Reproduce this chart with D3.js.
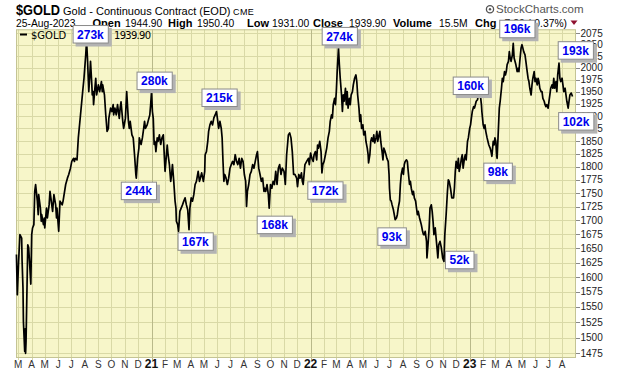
<!DOCTYPE html>
<html>
<head>
<meta charset="utf-8">
<title>$GOLD - Continuous Contract</title>
<script src="https://d3js.org/d3.v7.min.js"></script>
<style>
  body { margin: 0; background: #fff; }
  svg { display: block; font-family: Arial, "Liberation Sans", sans-serif; }
</style>
</head>
<body>
<div id="chart"></div>
<script>
// daily closes (roughly every 2-3 sessions)
const dates = [
  "2020-02-26","2020-02-28","2020-03-02","2020-03-05","2020-03-09","2020-03-10","2020-03-12","2020-03-13","2020-03-16","2020-03-17",
  "2020-03-18","2020-03-19","2020-03-23","2020-03-25","2020-03-27","2020-03-30","2020-04-01","2020-04-03","2020-04-06","2020-04-08",
  "2020-04-10","2020-04-14","2020-04-16","2020-04-17","2020-04-21","2020-04-23","2020-04-24","2020-04-28","2020-04-30","2020-05-01",
  "2020-05-05","2020-05-07","2020-05-11","2020-05-13","2020-05-15","2020-05-19","2020-05-22","2020-05-26","2020-05-28","2020-05-29",
  "2020-06-02","2020-06-05","2020-06-10","2020-06-12","2020-06-18","2020-06-22","2020-06-25","2020-06-29","2020-07-02","2020-07-06",
  "2020-07-08","2020-07-10","2020-07-14","2020-07-17","2020-07-22","2020-07-27","2020-07-30","2020-08-03","2020-08-05","2020-08-07",
  "2020-08-10","2020-08-12","2020-08-14","2020-08-17","2020-08-18","2020-08-20","2020-08-21","2020-08-24","2020-08-26","2020-08-28",
  "2020-09-01","2020-09-04","2020-09-08","2020-09-10","2020-09-11","2020-09-15","2020-09-18","2020-09-21","2020-09-24","2020-09-25",
  "2020-09-29","2020-10-02","2020-10-05","2020-10-06","2020-10-09","2020-10-12","2020-10-15","2020-10-19","2020-10-21","2020-10-23",
  "2020-10-27","2020-10-29","2020-11-02","2020-11-05","2020-11-09","2020-11-11","2020-11-13","2020-11-17","2020-11-20","2020-11-23",
  "2020-11-26","2020-11-27","2020-11-30","2020-12-03","2020-12-04","2020-12-08","2020-12-11","2020-12-14","2020-12-16","2020-12-18",
  "2020-12-22","2020-12-24","2020-12-28","2020-12-30","2021-01-01","2021-01-03","2021-01-05","2021-01-07","2021-01-09","2021-01-11",
  "2021-01-14","2021-01-16","2021-01-19","2021-01-22","2021-01-25","2021-01-28",
  "2021-02-01","2021-02-03","2021-02-06","2021-02-08","2021-02-11","2021-02-14","2021-02-16","2021-02-18","2021-02-21","2021-02-24",
  "2021-02-26","2021-02-27","2021-03-02","2021-03-04","2021-03-07","2021-03-10","2021-03-13","2021-03-16","2021-03-19","2021-03-22",
  "2021-03-25","2021-03-28","2021-03-30","2021-04-02","2021-04-05","2021-04-08","2021-04-11","2021-04-14","2021-04-18","2021-04-21",
  "2021-04-23","2021-04-26","2021-04-30","2021-05-03","2021-05-04","2021-05-07","2021-05-10","2021-05-12","2021-05-15","2021-05-18",
  "2021-05-21","2021-05-24","2021-05-27","2021-05-30","2021-06-01","2021-06-04","2021-06-07","2021-06-10","2021-06-12","2021-06-14",
  "2021-06-16","2021-06-18","2021-06-21","2021-06-24","2021-06-27","2021-06-30","2021-07-03","2021-07-06","2021-07-09","2021-07-12",
  "2021-07-15","2021-07-18","2021-07-21","2021-07-24","2021-07-27","2021-07-30","2021-08-02","2021-08-05","2021-08-07","2021-08-09",
  "2021-08-12","2021-08-15","2021-08-18","2021-08-21","2021-08-24","2021-08-27","2021-08-30","2021-09-01","2021-09-04","2021-09-07",
  "2021-09-10","2021-09-13","2021-09-16","2021-09-18","2021-09-20","2021-09-23","2021-09-26","2021-09-28","2021-10-01","2021-10-04",
  "2021-10-07","2021-10-10","2021-10-13","2021-10-16","2021-10-19","2021-10-22","2021-10-25","2021-10-28","2021-11-01","2021-11-04",
  "2021-11-07","2021-11-09","2021-11-11","2021-11-14","2021-11-17","2021-11-20","2021-11-23","2021-11-26","2021-11-30","2021-12-02",
  "2021-12-05","2021-12-08","2021-12-11","2021-12-13","2021-12-15","2021-12-19","2021-12-23","2021-12-27","2021-12-29",
  "2022-01-01","2022-01-04","2022-01-07","2022-01-09","2022-01-12","2022-01-15","2022-01-17","2022-01-19","2022-01-22","2022-01-25",
  "2022-01-27","2022-01-29","2022-02-01","2022-02-04","2022-02-07","2022-02-10","2022-02-13","2022-02-15","2022-02-18","2022-02-20",
  "2022-02-22","2022-02-25","2022-02-27","2022-03-01","2022-03-03","2022-03-06","2022-03-08","2022-03-10","2022-03-13","2022-03-15",
  "2022-03-17","2022-03-19","2022-03-22","2022-03-24","2022-03-26","2022-03-28","2022-03-31","2022-04-02","2022-04-04","2022-04-07",
  "2022-04-09","2022-04-12","2022-04-15","2022-04-17","2022-04-19","2022-04-22","2022-04-24","2022-04-26","2022-04-28","2022-05-01",
  "2022-05-03","2022-05-06","2022-05-08","2022-05-11","2022-05-13","2022-05-14","2022-05-17","2022-05-19","2022-05-21","2022-05-24",
  "2022-05-26","2022-05-28","2022-05-31","2022-06-02","2022-06-04","2022-06-07","2022-06-09","2022-06-11","2022-06-14","2022-06-16",
  "2022-06-18","2022-06-21","2022-06-23","2022-06-25","2022-06-28","2022-06-30","2022-07-01","2022-07-03","2022-07-05","2022-07-07",
  "2022-07-10","2022-07-12","2022-07-14","2022-07-17","2022-07-19","2022-07-21","2022-07-24","2022-07-26","2022-07-28","2022-07-31",
  "2022-08-02","2022-08-04","2022-08-06","2022-08-09","2022-08-11","2022-08-13","2022-08-16","2022-08-18","2022-08-20","2022-08-23",
  "2022-08-25","2022-08-27","2022-08-30","2022-09-01","2022-09-03","2022-09-05","2022-09-08","2022-09-10","2022-09-12","2022-09-15",
  "2022-09-17","2022-09-19","2022-09-21","2022-09-24","2022-09-25","2022-09-28","2022-09-30","2022-10-02","2022-10-05","2022-10-07",
  "2022-10-09","2022-10-11","2022-10-14","2022-10-16","2022-10-18","2022-10-20","2022-10-22","2022-10-25","2022-10-28","2022-10-31",
  "2022-11-03","2022-11-05","2022-11-08","2022-11-11","2022-11-13","2022-11-15","2022-11-18","2022-11-21","2022-11-25","2022-11-27",
  "2022-11-29","2022-12-01","2022-12-04","2022-12-06","2022-12-08","2022-12-11","2022-12-13","2022-12-15","2022-12-17","2022-12-20",
  "2022-12-22","2022-12-24","2022-12-27","2022-12-29",
  "2023-01-01","2023-01-03","2023-01-05","2023-01-07","2023-01-10","2023-01-12","2023-01-14","2023-01-16","2023-01-19","2023-01-21",
  "2023-01-23","2023-01-25","2023-01-28","2023-01-29","2023-02-01","2023-02-03","2023-02-05","2023-02-07","2023-02-10","2023-02-12",
  "2023-02-14","2023-02-17","2023-02-19","2023-02-21","2023-02-24","2023-02-26","2023-02-28","2023-03-02","2023-03-04","2023-03-05",
  "2023-03-08","2023-03-10","2023-03-12","2023-03-15","2023-03-17","2023-03-19","2023-03-22","2023-03-24","2023-03-26","2023-03-28",
  "2023-03-31","2023-04-02","2023-04-04","2023-04-06","2023-04-09","2023-04-11","2023-04-13","2023-04-15","2023-04-17","2023-04-20",
  "2023-04-22","2023-04-24","2023-04-26","2023-04-29","2023-05-01","2023-05-03","2023-05-05","2023-05-08","2023-05-10","2023-05-12",
  "2023-05-15","2023-05-17","2023-05-19","2023-05-22","2023-05-24","2023-05-26","2023-05-29","2023-05-31","2023-06-02","2023-06-05",
  "2023-06-07","2023-06-09","2023-06-11","2023-06-14","2023-06-16","2023-06-18","2023-06-21","2023-06-23","2023-06-25","2023-06-27",
  "2023-06-30","2023-07-02","2023-07-04","2023-07-06","2023-07-09","2023-07-11","2023-07-13","2023-07-15","2023-07-18","2023-07-20",
  "2023-07-22","2023-07-25","2023-07-27","2023-07-29","2023-08-01","2023-08-03","2023-08-05","2023-08-08","2023-08-10","2023-08-12",
  "2023-08-15","2023-08-17","2023-08-19","2023-08-22","2023-08-25"
];
const closes = [
  1639,1570,1627,1674,1668,1627,1582,1526,1478,1514,
  1475,1493,1656,1651,1627,1588,1674,1686,1692,1753,
  1766,1735,1710,1747,1722,1698,1710,1692,1704,1686,
  1722,1704,1728,1753,1741,1716,1747,1728,1704,1722,
  1680,1735,1728,1735,1766,1778,1785,1797,1810,1816,
  1810,1816,1813,1856,1902,1950,1978,2028,2057,2021,
  1950,1978,2014,1964,1943,1950,1923,1957,1978,1943,
  1964,1950,1971,1950,1964,1943,1902,1869,1875,1895,
  1916,1909,1923,1902,1916,1902,1923,1895,1916,1929,
  1889,1875,1895,1950,1889,1875,1889,1862,1856,1823,
  1785,1778,1816,1836,1856,1843,1856,1875,1889,1875,
  1882,1889,1902,1923,1950,1909,1895,1843,1849,1829,
  1856,1849,1862,1843,1856,1862,
  1791,1810,1842,1823,1804,1772,1785,1804,1772,1735,
  1722,1698,1692,1680,1716,1722,1728,1735,1741,1728,
  1719,1683,1722,1741,1735,1747,1766,1772,1791,1772,
  1778,1788,1772,1791,1823,1829,1849,1869,1882,1889,
  1882,1896,1902,1909,1896,1875,1889,1875,1856,1810,
  1772,1785,1778,1766,1778,1797,1804,1810,1804,1823,
  1810,1804,1816,1797,1816,1810,1785,1772,1725,1753,
  1766,1785,1791,1804,1797,1810,1823,1829,1797,1785,
  1772,1778,1753,1759,1753,1766,1747,1722,1766,1759,
  1772,1766,1791,1766,1797,1804,1785,1797,1791,1766,
  1823,1842,1862,1866,1856,1829,1785,1785,1778,1762,
  1785,1778,1788,1772,1766,1804,1810,1816,1804,
  1826,1816,1810,1823,1829,1813,1842,1836,1849,1829,
  1788,1804,1810,1823,1836,1856,1869,1889,1902,1896,
  1923,1936,1923,1950,1992,2043,2007,1978,1943,1909,
  1943,1930,1957,1923,1950,1916,1936,1923,1943,1950,
  1964,1978,1985,1971,1943,1916,1889,1902,1875,1882,
  1862,1869,1849,1836,1823,1807,1823,1849,1856,1849,
  1862,1846,1856,1869,1849,1862,1869,1849,1829,1813,
  1836,1829,1823,1816,1810,1785,1759,1737,1735,1728,
  1719,1710,1701,1704,1710,1722,1735,1766,1785,1797,
  1785,1804,1810,1813,1810,1791,1766,1772,1759,1747,
  1753,1741,1735,1722,1710,1716,1704,1698,1692,1680,
  1674,1674,1680,1662,1633,1662,1686,1722,1728,1716,
  1698,1674,1686,1668,1651,1633,1656,1662,1651,1633,
  1627,1674,1710,1753,1775,1772,1759,1741,1741,1759,
  1791,1810,1797,1816,1791,1804,1816,1823,1797,1816,
  1823,1813,1849,1856,
  1875,1882,1896,1909,1919,1916,1923,1930,1933,1943,
  1940,1947,1923,1909,1882,1875,1882,1869,1856,1849,
  1842,1836,1829,1820,1849,1842,1856,1849,1820,1816,
  1875,1916,1930,1957,1978,1971,1992,1985,1992,2007,
  2014,2035,2021,2014,2028,2053,2021,2014,2007,1992,
  1999,1992,2014,2043,2050,2043,2035,2028,2014,1999,
  1978,1971,1957,1943,1964,1978,1992,1971,1978,1964,
  1978,1971,1957,1950,1950,1936,1930,1923,1919,1923,
  1916,1930,1943,1957,1964,1957,1978,1957,1971,1950,
  1985,2010,1978,1971,1978,1964,1950,1957,1943,1930,
  1916,1930,1943,1947,1939.9
];

const priceTicks = [1475,1500,1525,1550,1575,1600,1625,1650,1675,1700,1725,1750,1775,1800,
  1825,1850,1875,1900,1925,1950,1975,2000,2025,2050,2075];

const monthLabels = ["M","A","M","J","J","A","S","O","N","D",
  "21","F","M","A","M","J","J","A","S","O","N","D",
  "22","F","M","A","M","J","J","A","S","O","N","D",
  "23","F","M","A","M","J","J","A"];

// volume call-outs at swing highs and lows
const annDates = ["2020-08-05","2021-01-01","2020-11-27","2021-03-04","2021-05-30","2021-09-28","2022-01-27",
  "2022-03-06","2022-07-14","2022-11-03","2023-01-25","2023-03-05","2023-04-11","2023-07-25","2023-08-15"];
const annValues = [2057,1950,1778,1680,1909,1722,1788,2043,1701,1627,1947,1816,2053,2010,1916];
const annLabels = ["273k","280k","244k","167k","215k","168k","172k","274k","93k","52k","160k","98k","196k","193k","102k"];

// chart
const width = 620, height = 376;
const plot = { left: 16, right: 576, top: 29.3, bottom: 358 };
const parse = d3.timeParse("%Y-%m-%d");

const svg = d3.select("#chart").append("svg")
  .attr("width", width)
  .attr("height", height);

const x = d3.scaleTime()
  .domain([new Date(2020, 1, 25), new Date(2023, 8, 2)])
  .range([plot.left, plot.right]);

const y = d3.scaleLog()
  .domain([1467.6, 2084])
  .range([plot.bottom, plot.top]);

// plot area
svg.append("rect")
  .attr("x", plot.left).attr("y", plot.top)
  .attr("width", plot.right - plot.left).attr("height", plot.bottom - plot.top)
  .attr("fill", "#f7f6c9");

const monthStarts = d3.timeMonth.range(new Date(2020, 2, 1), new Date(2023, 8, 1));

// horizontal grid
svg.append("g").selectAll("line")
  .data(priceTicks)
  .join("line")
  .attr("x1", plot.left).attr("x2", plot.right)
  .attr("y1", d => Math.round(y(d)) + 0.5).attr("y2", d => Math.round(y(d)) + 0.5)
  .attr("stroke", "#d9d9a6").attr("stroke-width", 1);

// vertical grid
svg.append("g").selectAll("line")
  .data(monthStarts)
  .join("line")
  .attr("x1", d => Math.round(x(d)) + 0.5).attr("x2", d => Math.round(x(d)) + 0.5)
  .attr("y1", plot.top).attr("y2", plot.bottom + 2)
  .attr("stroke", d => d.getMonth() === 0 ? "#b9b98a" : "#d9d9a6")
  .attr("stroke-width", 1);

svg.append("rect")
  .attr("x", plot.left + 0.5).attr("y", plot.top + 0.5)
  .attr("width", plot.right - plot.left - 1).attr("height", plot.bottom - plot.top - 1)
  .attr("fill", "none").attr("stroke", "#c4c495");

// price line
const series = dates.map((d, i) => ({ date: parse(d), close: closes[i] }));
svg.append("path")
  .datum(series)
  .attr("fill", "none")
  .attr("stroke", "#000")
  .attr("stroke-width", 1.7)
  .attr("stroke-linejoin", "round")
  .attr("d", d3.line().x(d => x(d.date)).y(d => y(d.close)));

// right axis
const yAxis = svg.append("g");
yAxis.selectAll("line")
  .data(priceTicks)
  .join("line")
  .attr("x1", plot.right).attr("x2", plot.right + 4)
  .attr("y1", d => Math.round(y(d)) + 0.5).attr("y2", d => Math.round(y(d)) + 0.5)
  .attr("stroke", "#888");
yAxis.selectAll("text")
  .data(priceTicks)
  .join("text")
  .attr("x", plot.right + 4.5)
  .attr("y", d => y(d) + 3.6)
  .attr("font-size", 10)
  .attr("fill", "#222")
  .text(d => d);

// bottom month labels
svg.append("g").selectAll("text")
  .data(monthStarts)
  .join("text")
  .attr("x", d => x(d))
  .attr("y", 368)
  .attr("text-anchor", "middle")
  .attr("font-size", (d, i) => monthLabels[i].length > 1 ? 12 : 10)
  .attr("font-weight", (d, i) => monthLabels[i].length > 1 ? "bold" : "normal")
  .attr("fill", (d, i) => monthLabels[i].length > 1 ? "#111" : "#333")
  .text((d, i) => monthLabels[i]);

// legend inside plot
svg.append("line")
  .attr("x1", 20).attr("x2", 27).attr("y1", 34.5).attr("y2", 34.5)
  .attr("stroke", "#000").attr("stroke-width", 2);
svg.append("text")
  .attr("x", 31).attr("y", 38.5)
  .attr("font-family", "'DejaVu Sans', Verdana, sans-serif")
  .attr("font-size", 10)
  .text("$GOLD");
svg.append("text")
  .attr("x", 114).attr("y", 38.5)
  .attr("font-family", "'DejaVu Sans', Verdana, sans-serif")
  .attr("font-size", 10)
  .attr("textLength", 37)
  .text("1939.90");

// header
svg.append("text")
  .attr("x", 16).attr("y", 15)
  .attr("font-size", 14).attr("font-weight", "bold")
  .attr("textLength", 44).attr("lengthAdjust", "spacingAndGlyphs")
  .text("$GOLD");
svg.append("text")
  .attr("x", 63).attr("y", 15)
  .attr("font-size", 11)
  .text("Gold - Continuous Contract (EOD)");
svg.append("text")
  .attr("x", 233).attr("y", 15)
  .attr("font-size", 9).attr("letter-spacing", 0.4)
  .text("CME");

const row2 = [
  { x: 16, t: "25-Aug-2023", b: false },
  { x: 92.5, t: "Open", b: true },
  { x: 125, t: "1944.90", b: false },
  { x: 168, t: "High", b: true },
  { x: 197, t: "1950.40", b: false },
  { x: 247, t: "Low", b: true },
  { x: 272, t: "1931.00", b: false },
  { x: 313, t: "Close", b: true },
  { x: 349, t: "1939.90", b: false },
  { x: 393, t: "Volume", b: true },
  { x: 439, t: "15.5M", b: false },
  { x: 475, t: "Chg", b: true }
];
svg.append("g").selectAll("text")
  .data(row2)
  .join("text")
  .attr("x", d => d.x).attr("y", 26.5)
  .attr("font-size", d => d.b ? 11 : 10.3)
  .attr("font-weight", d => d.b ? "bold" : "normal")
  .text(d => d.t);
svg.append("text")
  .attr("x", 567).attr("y", 26.5)
  .attr("text-anchor", "end")
  .attr("font-size", 10.3)
  .text("-7.20 (-0.37%)");
svg.append("path")
  .attr("d", "M570.5,20.5 L577.5,20.5 L574,25 Z")
  .attr("fill", "#8e1030");

// logo
svg.append("circle")
  .attr("cx", 490).attr("cy", 9.3).attr("r", 3.6)
  .attr("fill", "none").attr("stroke", "#555").attr("stroke-width", 1.3);
svg.append("circle")
  .attr("cx", 490).attr("cy", 9.3).attr("r", 1.2)
  .attr("fill", "#555");
svg.append("text")
  .attr("x", 496).attr("y", 13.3)
  .attr("font-size", 11.5)
  .attr("fill", "#555")
  .text("StockCharts.com");

// call-out boxes, placed from the pivot point
const annOffsets = [[-14,-16.5],[-15,-20],[-15.5,3.5],[-1,1],[-15,-23],[-12.5,7.5],[-14.6,8.4],
  [-16.8,-21],[-17.8,7.7],[1,-10.6],[-27.4,-16.5],[-13.8,4.3],[-14,-23.6],[-1.3,-22],[-10,4]];

const boxH = 18.5;
annLabels.forEach((label, i) => {
  const bx = x(parse(annDates[i])) + annOffsets[i][0];
  const by = y(annValues[i]) + annOffsets[i][1];
  const g = svg.append("g");
  const shadow = g.append("rect").attr("fill", "#b3b3b3");
  const box = g.append("rect").attr("fill", "#fff").attr("stroke", "#8a8a8a").attr("stroke-width", 1);
  const txt = g.append("text")
    .attr("x", bx + 4.5).attr("y", by + 13.6)
    .attr("font-size", 12).attr("font-weight", "bold")
    .attr("fill", "#0000ee")
    .text(label);
  const w = txt.node().getComputedTextLength() + 9.5;
  shadow.attr("x", bx + 3).attr("y", by + 3).attr("width", w).attr("height", boxH);
  box.attr("x", bx + 0.5).attr("y", by + 0.5).attr("width", w - 1).attr("height", boxH - 1);
});
</script>
</body>
</html>
